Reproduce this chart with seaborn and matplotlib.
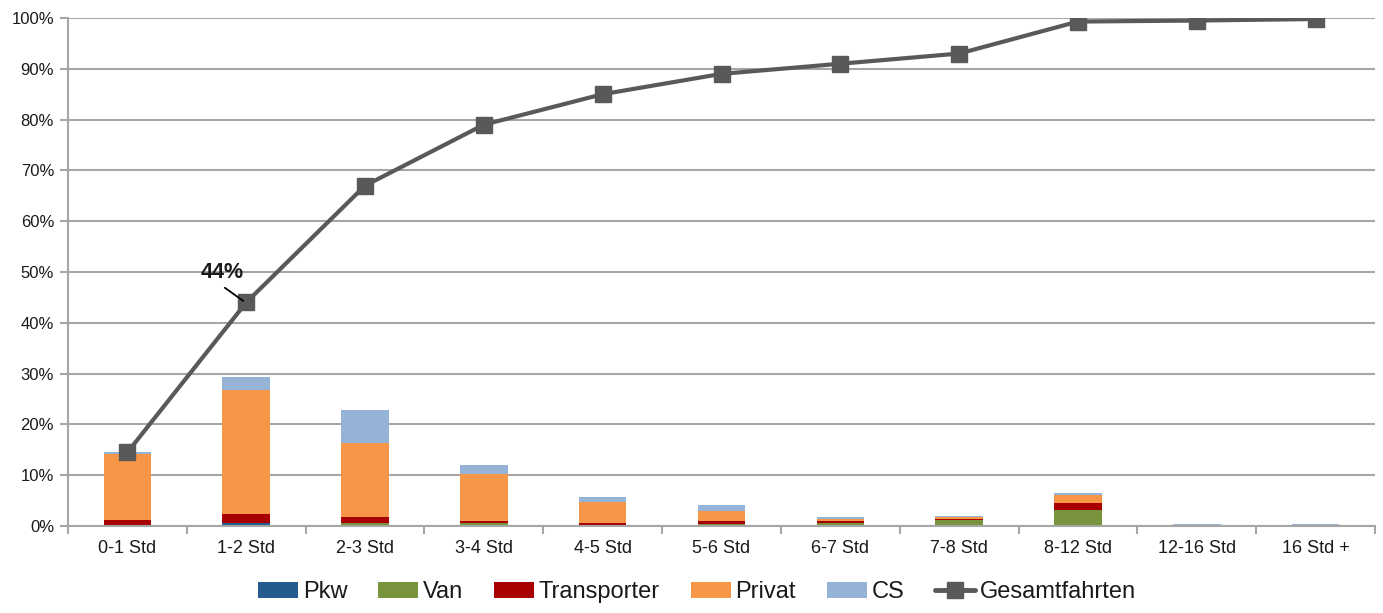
import numpy as np
import pandas as pd
import matplotlib
matplotlib.use("Agg")
import matplotlib.pyplot as plt
import seaborn as sns
from matplotlib.patches import Patch
from matplotlib.lines import Line2D
from matplotlib.ticker import FuncFormatter, MultipleLocator, FixedLocator

categories = ["0-1 Std", "1-2 Std", "2-3 Std", "3-4 Std", "4-5 Std", "5-6 Std",
              "6-7 Std", "7-8 Std", "8-12 Std", "12-16 Std", "16 Std +"]
pkw = [0.1, 0.5, 0.1, 0.0, 0.0, 0.0, 0.0, 0.0, 0.0, 0.0, 0.0]
van = [0.0, 0.1, 0.5, 0.5, 0.2, 0.4, 0.65, 1.1, 3.15, 0.0, 0.0]
transporter = [1.1, 1.7, 1.2, 0.4, 0.4, 0.6, 0.35, 0.35, 1.45, 0.0, 0.0]
privat = [13.0, 24.5, 14.5, 9.3, 4.1, 2.0, 0.3, 0.35, 1.5, 0.0, 0.0]
cs = [0.4, 2.5, 6.5, 1.8, 1.1, 1.1, 0.5, 0.2, 0.3, 0.3, 0.3]
gesamt = [14.5, 44, 67, 79, 85, 89, 91, 93, 99.3, 99.5, 99.8]

series_names = ["Pkw", "Van", "Transporter", "Privat", "CS"]
series_vals = [pkw, van, transporter, privat, cs]
colors = ["#245C8F", "#77933C", "#A80000", "#F79646", "#95B3D7"]
line_color = "#595959"
text_color = "#1A1A1A"

sns.set_theme(style="white")
plt.rcParams['font.family'] = ['Liberation Sans', 'DejaVu Sans']

fig = plt.figure(figsize=(13.83, 6.13), dpi=100)
ax = fig.add_axes([68 / 1383, 1 - 526 / 613, (1375 - 68) / 1383, (526 - 18) / 613])

cum = np.zeros(len(categories))
cums = []
for vals in series_vals:
    cum = cum + np.array(vals)
    cums.append(cum.copy())

# draw from top layer down so lower segments overlay
for name, c, col in reversed(list(zip(series_names, cums, colors))):
    d = pd.DataFrame({"cat": categories, "val": c})
    sns.barplot(data=d, x="cat", y="val", order=categories, color=col,
                width=0.4, ax=ax, saturation=1, linewidth=0, zorder=2)

x = np.arange(len(categories))
ax.plot(x, gesamt, color=line_color, linewidth=3, marker="s", markersize=12,
        zorder=4)

ax.set_xlim(-0.5, len(categories) - 0.5)
ax.set_ylim(0, 100)
ax.yaxis.set_major_locator(MultipleLocator(10))
ax.yaxis.set_major_formatter(FuncFormatter(lambda v, p: f"{int(v)}%"))
ax.grid(axis="y", color="#A6A6A6", linewidth=1.5, zorder=0)
ax.set_axisbelow(True)
ax.set_xlabel("")
ax.set_ylabel("")

for s in ["top", "right"]:
    ax.spines[s].set_visible(False)
for s in ["left", "bottom"]:
    ax.spines[s].set_color("#A6A6A6")
    ax.spines[s].set_linewidth(1.5)

ax.tick_params(axis="x", which="major", length=0, labelsize=13, labelcolor=text_color, pad=10)
ax.xaxis.set_minor_locator(FixedLocator(np.arange(-0.5, len(categories), 1.0)))
ax.tick_params(axis="x", which="minor", length=6, width=1.5, color="#A6A6A6", bottom=True)
ax.tick_params(axis="y", which="major", length=6, width=1.5, color="#A6A6A6", left=True,
               labelsize=12, labelcolor=text_color, pad=4)

ax.text(0.80, 50.0, "44%", fontsize=15.5, fontweight="bold", ha="center", va="center",
        color=text_color, zorder=6)
ax.plot([0.82, 0.975], [46.9, 44.3], color="#000000", linewidth=1.3, zorder=5)

handles = [Patch(facecolor=c, edgecolor="none") for c in colors]
handles.append(Line2D([0], [0], color=line_color, linewidth=3.5, marker="s", markersize=12))
labels = series_names + ["Gesamtfahrten"]
fig.legend(handles, labels, loc="center", bbox_to_anchor=(0.504, 1 - 592 / 613), ncol=6,
           frameon=False, fontsize=17, handlelength=1.7, handleheight=0.65,
           handletextpad=0.2, columnspacing=1.3, labelcolor=text_color)

fig.savefig("out.png", dpi=100)
